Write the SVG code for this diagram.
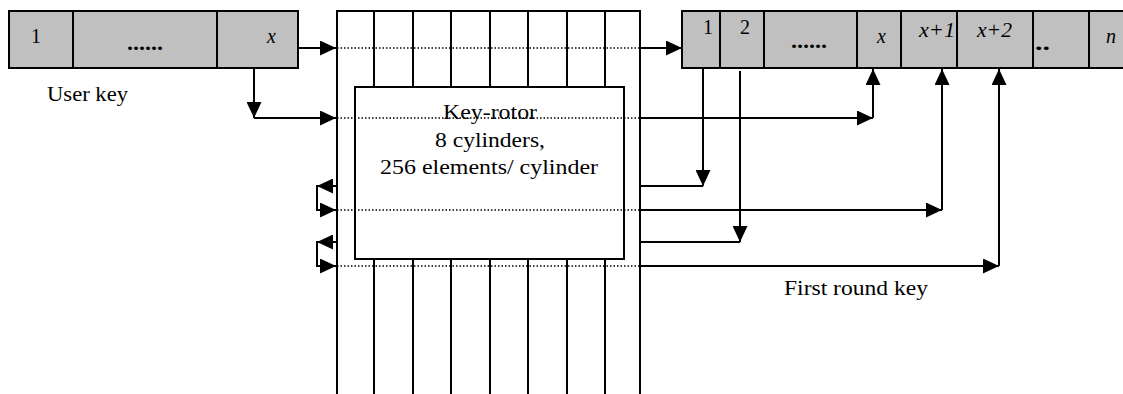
<svg xmlns="http://www.w3.org/2000/svg" width="1123" height="394" viewBox="0 0 1123 394">
<style>
.t{font-family:"Liberation Serif","Times New Roman",serif;font-size:20px;fill:#000}
.i{font-style:italic}
.b{font-weight:bold}
.box{fill:#c0c0c0;stroke:#000;stroke-width:2}
.ln{stroke:#000;stroke-width:2;fill:none}
.dot{stroke:#000;stroke-width:1.5;stroke-dasharray:1.5 2;fill:none}
.ar{stroke:#000;stroke-width:2;fill:none;marker-end:url(#ah)}
</style>
<defs>
<marker id="ah" markerUnits="userSpaceOnUse" viewBox="0 0 16 15" markerWidth="16" markerHeight="15" refX="16" refY="7.5" orient="auto">
<path d="M0,0 L16,7.5 L0,15 z" fill="#000"/>
</marker>
</defs>

<g id="user-key">
<rect class="box" x="9" y="11" width="289" height="57"/>
<line class="ln" x1="73" y1="11" x2="73" y2="68"/>
<line class="ln" x1="217" y1="11" x2="217" y2="68"/>
<text class="t" x="31" y="43" font-size="21">1</text>
<text class="t b" x="127" y="50" textLength="36" lengthAdjust="spacingAndGlyphs">......</text>
<text class="t i" x="267" y="43" font-size="21">x</text>
<text class="t" x="47" y="101" textLength="81" lengthAdjust="spacingAndGlyphs">User key</text>
</g>

<g id="key-rotor">
<line class="ln" x1="337" y1="11" x2="337" y2="394"/>
<line class="ln" x1="640" y1="11" x2="640" y2="394"/>
<line class="ln" x1="336" y1="11" x2="641" y2="11"/>
<line class="ln" x1="374" y1="11" x2="374" y2="394"/>
<line class="ln" x1="413" y1="11" x2="413" y2="394"/>
<line class="ln" x1="451" y1="11" x2="451" y2="394"/>
<line class="ln" x1="490" y1="11" x2="490" y2="394"/>
<line class="ln" x1="528" y1="11" x2="528" y2="394"/>
<line class="ln" x1="567" y1="11" x2="567" y2="394"/>
<line class="ln" x1="605" y1="11" x2="605" y2="394"/>
<rect x="355" y="87" width="269" height="172" fill="#fff" stroke="#000" stroke-width="2"/>
<text class="t" x="443" y="119" textLength="94" lengthAdjust="spacingAndGlyphs">Key-rotor</text>
<text class="t" x="435" y="147" textLength="110" lengthAdjust="spacingAndGlyphs">8 cylinders,</text>
<text class="t" x="380" y="174" textLength="218" lengthAdjust="spacingAndGlyphs">256 elements/ cylinder</text>
</g>

<g id="round-key">
<rect class="box" x="682" y="11" width="450" height="57"/>
<line class="ln" x1="720" y1="11" x2="720" y2="68"/>
<line class="ln" x1="764" y1="11" x2="764" y2="68"/>
<line class="ln" x1="857" y1="11" x2="857" y2="68"/>
<line class="ln" x1="901" y1="11" x2="901" y2="68"/>
<line class="ln" x1="957" y1="11" x2="957" y2="68"/>
<line class="ln" x1="1033" y1="11" x2="1033" y2="68"/>
<line class="ln" x1="1089" y1="11" x2="1089" y2="68"/>
<text class="t" x="703" y="34" font-size="21">1</text>
<text class="t" x="740" y="34" font-size="21">2</text>
<text class="t b" x="791" y="48" textLength="36" lengthAdjust="spacingAndGlyphs">......</text>
<text class="t i" x="877" y="43" font-size="21">x</text>
<text class="t i" x="919" y="37" textLength="36" lengthAdjust="spacingAndGlyphs">x+1</text>
<text class="t i" x="977" y="37" textLength="35" lengthAdjust="spacingAndGlyphs">x+2</text>
<text class="t b" x="1035" y="50" textLength="15" lengthAdjust="spacingAndGlyphs">..</text>
<text class="t i" x="1106" y="43" font-size="21">n</text>
<text class="t" x="784" y="295" textLength="144" lengthAdjust="spacingAndGlyphs">First round key</text>
</g>

<g id="connectors">
<path class="dot" d="M337,48 H640"/>
<path class="dot" d="M337,118 H640"/>
<path class="dot" d="M337,210 H640"/>
<path class="dot" d="M337,266 H640"/>
<path class="ar" d="M298,48 H336"/>
<path class="ar" d="M254,68 V118"/>
<path class="ar" d="M254,118 H336"/>
<path class="ar" d="M640,48 H682"/>
<path class="ar" d="M640,118 H873"/>
<path class="ar" d="M873,118 V69"/>
<path class="ln" d="M640,186 H703"/>
<path class="ar" d="M703,68 V186"/>
<path class="ln" d="M640,242 H740"/>
<path class="ar" d="M740,71 V242"/>
<path class="ar" d="M640,210 H942"/>
<path class="ar" d="M942,210 V69"/>
<path class="ar" d="M640,266 H999"/>
<path class="ar" d="M999,266 V69"/>
<path class="ar" d="M337,186 H317"/>
<path class="ar" d="M317,185 V210 H336"/>
<path class="ar" d="M337,242 H317"/>
<path class="ar" d="M317,241 V266 H336"/>
</g>
</svg>
